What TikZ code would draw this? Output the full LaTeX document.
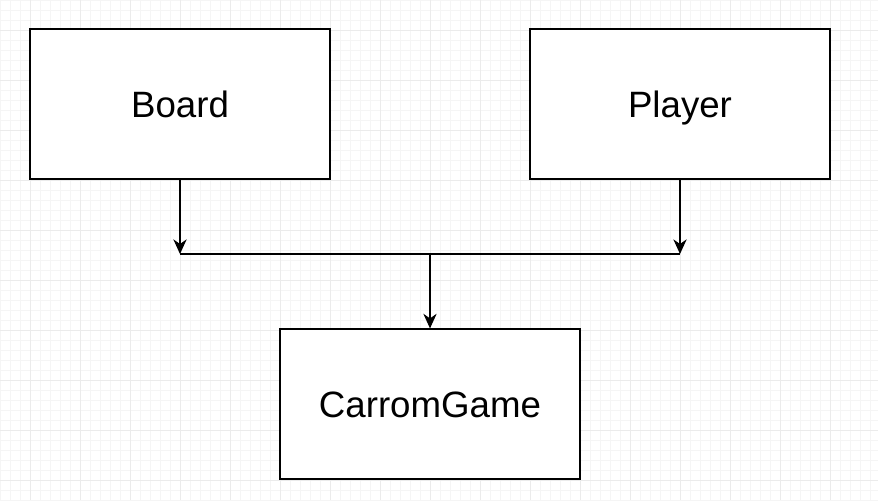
\documentclass[tikz,border=0pt]{standalone}
\usepackage{fontspec}
\setmainfont{Liberation Sans}
\usepackage{tikz}
\usetikzlibrary{arrows.meta}

\begin{document}
\begin{tikzpicture}[x=0.75pt, y=-0.75pt,
    box/.style={draw, line width=0.9pt, minimum width=300*0.75pt, minimum height=150*0.75pt, font=\fontsize{27.5}{30}\selectfont, text height=19.7pt, text depth=0pt, fill=white},
    link/.style={line width=0.9pt, -{Stealth[length=11pt, width=10pt, inset=3.5pt]}}]
        \useasboundingbox (0, 0) rectangle (878, 500);
        \foreach \x in {0, 10, ..., 870} \draw[color=black!4, line width=0.6pt] (\x, 0) -- (\x, 500);
        \foreach \y in {0, 10, ..., 500} \draw[color=black!4, line width=0.6pt] (0, \y) -- (878, \y);
        \foreach \x in {30, 80, ..., 870} \draw[color=black!8, line width=0.6pt] (\x, 0) -- (\x, 500);
        \foreach \y in {30, 80, ..., 480} \draw[color=black!8, line width=0.6pt] (0, \y) -- (878, \y);
        \node[box] at (180, 104) (board) {Board};
        \node[box] at (680, 104) (player) {Player};
        \node[box] at (430, 404) (game) {CarromGame};
        \coordinate (left) at (180, 254);
        \coordinate (right) at (680, 254);
        \coordinate (mid) at (430, 254);
        \draw[link] (board) -- (left);
        \draw[link] (player) -- (right);
        \draw[line width=0.9pt] (left) -- (right);
        \draw[link] (mid) -- (game);
    \end{tikzpicture}
\end{document}
